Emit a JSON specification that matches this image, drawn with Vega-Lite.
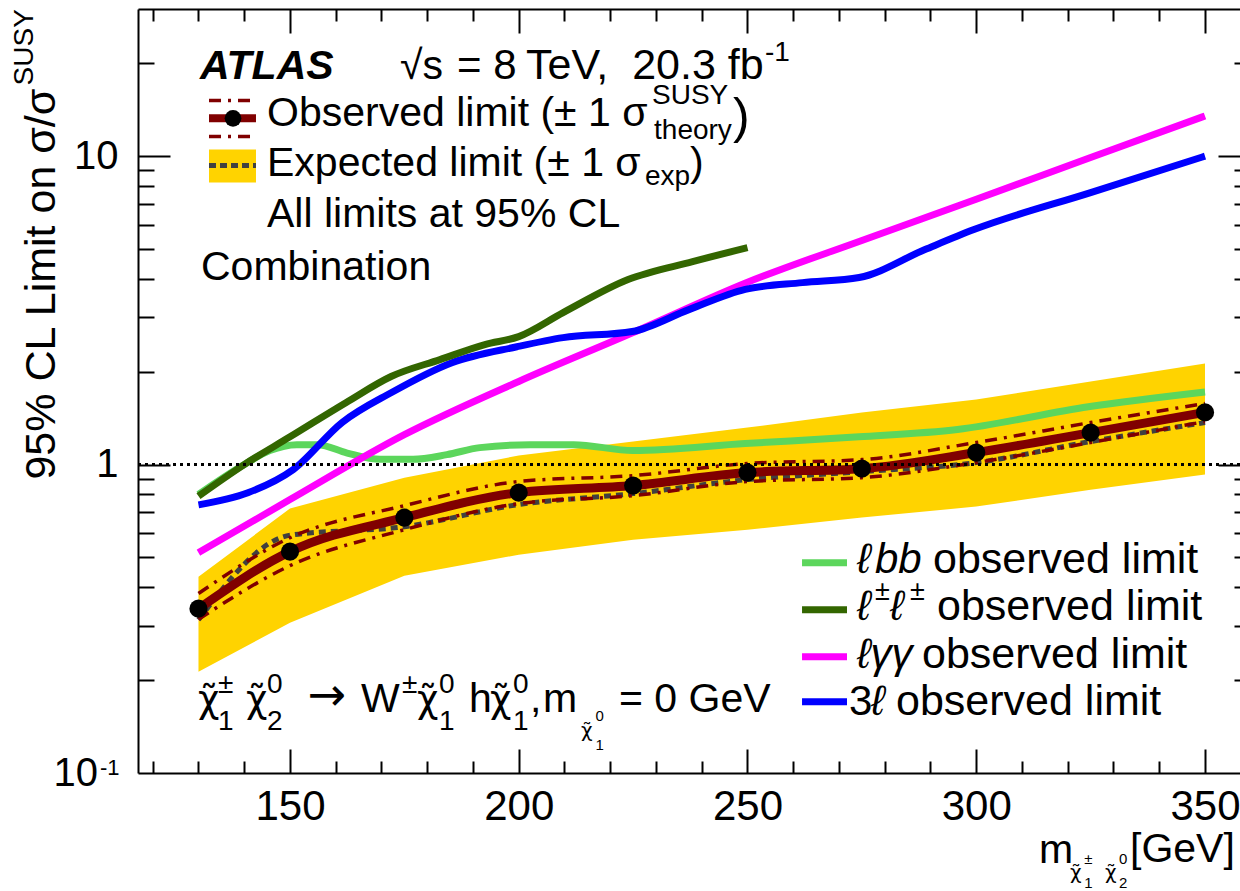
{
"$schema": "https://vega.github.io/schema/vega-lite/v6.json",
"width": 1102,
"height": 764,
"autosize": {"type": "none"},
"padding": {"left": 138, "top": 9, "right": 0, "bottom": 118},
"background": "white",
"config": {"view": {"stroke": null}, "font": "Liberation Sans", "text": {"font": "Liberation Sans", "color": "black", "align": "left", "baseline": "alphabetic"}},
"resolve": {"axis": {"x": "independent", "y": "independent"}},
"datasets": {
"band": [
{"m":130,"lo":0.213,"hi":0.433},{"m":150,"lo":0.307,"hi":0.720},{"m":175,"lo":0.436,"hi":0.907},{"m":200,"lo":0.510,"hi":1.070},{"m":225,"lo":0.571,"hi":1.188},{"m":250,"lo":0.615,"hi":1.318},{"m":275,"lo":0.673,"hi":1.475},{"m":300,"lo":0.731,"hi":1.626},{"m":325,"lo":0.829,"hi":1.860},{"m":350,"lo":0.928,"hi":2.128}],
"obs": [
{"m":130,"v":0.341,"up":0.382,"dn":0.315},{"m":150,"v":0.522,"up":0.579,"dn":0.470},{"m":175,"v":0.673,"up":0.736,"dn":0.615},{"m":200,"v":0.811,"up":0.881,"dn":0.747},{"m":225,"v":0.855,"up":0.921,"dn":0.793},{"m":250,"v":0.942,"up":1.008,"dn":0.881},{"m":275,"v":0.970,"up":1.038,"dn":0.907},{"m":300,"v":1.094,"up":1.179,"dn":1.015},{"m":325,"v":1.270,"up":1.369,"dn":1.179},{"m":350,"v":1.476,"up":1.578,"dn":1.379}],
"exp": [
{"m":130,"v":0.314},{"m":150,"v":0.59},{"m":175,"v":0.629},{"m":200,"v":0.742},{"m":225,"v":0.805},{"m":250,"v":0.894},{"m":275,"v":0.949},{"m":300,"v":1.015},{"m":325,"v":1.188},{"m":350,"v":1.369}],
"lbb": [
{"m":130,"v":0.80},{"m":140,"v":1.0},{"m":145.6,"v":1.11},{"m":151.5,"v":1.16},{"m":156,"v":1.16},{"m":162.5,"v":1.09},{"m":169.7,"v":1.04},{"m":176.9,"v":1.04},{"m":184.3,"v":1.077},{"m":191.5,"v":1.135},{"m":202.5,"v":1.16},{"m":212,"v":1.16},{"m":225,"v":1.11},{"m":249.5,"v":1.17},{"m":274.4,"v":1.23},{"m":295.9,"v":1.30},{"m":324.5,"v":1.54},{"m":350,"v":1.72}],
"ss": [
{"m":130,"v":0.79},{"m":140,"v":1.0},{"m":150,"v":1.23},{"m":162.3,"v":1.59},{"m":172.1,"v":1.93},{"m":182.8,"v":2.19},{"m":192.6,"v":2.45},{"m":200,"v":2.60},{"m":209.7,"v":3.11},{"m":223.9,"v":3.98},{"m":238,"v":4.55},{"m":250,"v":5.05}],
"lgg": [
{"m":130,"v":0.518},{"m":150,"v":0.770},{"m":175,"v":1.25},{"m":200,"v":1.86},{"m":225,"v":2.68},{"m":250,"v":3.90},{"m":275,"v":5.33},{"m":300,"v":7.25},{"m":325,"v":9.9},{"m":350,"v":13.5}],
"l3": [
{"m":130,"v":0.74},{"m":140.8,"v":0.81},{"m":150.7,"v":0.963},{"m":161.4,"v":1.37},{"m":172.1,"v":1.71},{"m":185.4,"v":2.14},{"m":199.6,"v":2.41},{"m":209.7,"v":2.58},{"m":224.8,"v":2.70},{"m":237.2,"v":3.18},{"m":249.5,"v":3.70},{"m":262,"v":3.89},{"m":274.4,"v":4.04},{"m":288.8,"v":4.98},{"m":299.5,"v":5.78},{"m":325,"v":7.62},{"m":350,"v":10.0}]
},
"layer": [
{"data": {"name": "band"}, "mark": {"type": "area", "color": "#ffd300", "opacity": 1},
 "encoding": {
  "x": {"field": "m", "type": "quantitative", "scale": {"domain": [116.78, 357.65], "nice": false, "zero": false},
        "axis": {"orient": "bottom", "values": [150,200,250,300,350], "ticks": false, "domain": true, "domainColor": "black", "domainWidth": 2, "labels": true, "labelFont": "Liberation Sans", "labelFontSize": 42, "labelColor": "black", "labelPadding": 13, "labelFlush": false, "labelOverlap": false, "labelBound": false, "grid": false, "title": null, "zindex": 1}},
  "y": {"field": "hi", "type": "quantitative", "scale": {"type": "log", "domain": [0.1, 30], "nice": false},
        "axis": {"orient": "left", "values": [1, 10], "ticks": false, "domain": true, "domainColor": "black", "domainWidth": 2, "labels": true, "labelFont": "Liberation Sans", "labelFontSize": 40, "labelColor": "black", "labelPadding": 20, "labelExpr": "datum.value > 5 ? '10' : '1'", "labelFlush": false, "labelOverlap": false, "labelBound": false, "grid": false, "title": null, "zindex": 1}},
  "y2": {"field": "lo"}
 }},
{"data": {"name": "exp"}, "mark": {"type": "line", "color": "#404040", "strokeWidth": 5, "strokeDash": [7, 5], "interpolate": "monotone"},
 "encoding": {
  "x": {"field": "m", "type": "quantitative", "axis": {"orient": "bottom", "values": [150,200,250,300,350], "ticks": true, "tickSize": -24, "tickWidth": 2, "tickColor": "black", "labels": false, "domain": false, "grid": false, "title": null, "zindex": 1}},
  "y": {"field": "v", "type": "quantitative", "axis": {"orient": "left", "values": [1, 10], "ticks": true, "tickSize": -32, "tickWidth": 2, "tickColor": "black", "labels": false, "domain": false, "grid": false, "title": null, "zindex": 1}}
 }},
{"data": {"name": "obs"}, "mark": {"type": "line", "color": "#800000", "strokeWidth": 3.5, "strokeDash": [12, 7, 3, 7], "interpolate": "monotone"},
 "encoding": {
  "x": {"field": "m", "type": "quantitative", "axis": {"orient": "bottom", "values": [120,130,140,160,170,180,190,210,220,230,240,260,270,280,290,310,320,330,340], "ticks": true, "tickSize": -12, "tickWidth": 2, "tickColor": "black", "labels": false, "domain": false, "grid": false, "title": null, "zindex": 1}},
  "y": {"field": "up", "type": "quantitative", "axis": {"orient": "left", "values": [0.2,0.3,0.4,0.5,0.6,0.7,0.8,0.9,2,3,4,5,6,7,8,9,20], "ticks": true, "tickSize": -16, "tickWidth": 2, "tickColor": "black", "labels": false, "domain": false, "grid": false, "title": null, "zindex": 1}}
 }},
{"data": {"name": "obs"}, "mark": {"type": "line", "color": "#800000", "strokeWidth": 3.5, "strokeDash": [12, 7, 3, 7], "interpolate": "monotone"},
 "encoding": {
  "x": {"field": "m", "type": "quantitative", "axis": {"orient": "top", "values": [150,200,250,300,350], "ticks": true, "tickSize": -24, "tickWidth": 2, "tickColor": "black", "labels": false, "domain": true, "domainColor": "black", "domainWidth": 2, "grid": false, "title": null, "zindex": 1}},
  "y": {"field": "dn", "type": "quantitative", "axis": {"orient": "right", "values": [1, 10], "ticks": true, "tickSize": -22, "tickWidth": 2, "tickColor": "black", "labels": false, "domain": false, "grid": false, "title": null, "zindex": 1}}
 }},
{"data": {"name": "obs"}, "mark": {"type": "line", "color": "#800000", "strokeWidth": 9, "interpolate": "monotone"},
 "encoding": {
  "x": {"field": "m", "type": "quantitative", "axis": {"orient": "top", "values": [120,130,140,160,170,180,190,210,220,230,240,260,270,280,290,310,320,330,340], "ticks": true, "tickSize": -12, "tickWidth": 2, "tickColor": "black", "labels": false, "domain": false, "grid": false, "title": null, "zindex": 1}},
  "y": {"field": "v", "type": "quantitative", "axis": {"orient": "right", "values": [0.2,0.3,0.4,0.5,0.6,0.7,0.8,0.9,2,3,4,5,6,7,8,9,20], "ticks": true, "tickSize": -6, "tickWidth": 2, "tickColor": "black", "labels": false, "domain": false, "grid": false, "title": null, "zindex": 1}}
 }},
{"data": {"name": "obs"}, "mark": {"type": "point", "shape": "circle", "filled": true, "color": "black", "opacity": 1, "size": 330},
 "encoding": {"x": {"field": "m", "type": "quantitative", "axis": null}, "y": {"field": "v", "type": "quantitative", "axis": null}}},
{"data": {"name": "lbb"}, "mark": {"type": "line", "color": "#5cd65c", "strokeWidth": 7, "interpolate": "monotone"},
 "encoding": {"x": {"field": "m", "type": "quantitative", "axis": null}, "y": {"field": "v", "type": "quantitative", "axis": null}}},
{"data": {"name": "lgg"}, "mark": {"type": "line", "color": "#ff00ff", "strokeWidth": 7, "interpolate": "monotone"},
 "encoding": {"x": {"field": "m", "type": "quantitative", "axis": null}, "y": {"field": "v", "type": "quantitative", "axis": null}}},
{"data": {"name": "l3"}, "mark": {"type": "line", "color": "#0000ff", "strokeWidth": 7, "interpolate": "monotone"},
 "encoding": {"x": {"field": "m", "type": "quantitative", "axis": null}, "y": {"field": "v", "type": "quantitative", "axis": null}}},
{"data": {"name": "ss"}, "mark": {"type": "line", "color": "#336600", "strokeWidth": 7, "interpolate": "monotone"},
 "encoding": {"x": {"field": "m", "type": "quantitative", "axis": null}, "y": {"field": "v", "type": "quantitative", "axis": null}}},
{"data": {"values": [{}]}, "mark": {"type": "rule", "color": "black", "strokeWidth": 3, "strokeDash": [3, 4]},
 "encoding": {"y": {"datum": 1, "axis": null}}},

{"data": {"values": [{}]}, "mark": {"type": "rect", "color": "#ffd300"},
 "encoding": {"x": {"datum": 132.30, "axis": null}, "x2": {"datum": 142.57}, "y": {"datum": 10.513, "axis": null}, "y2": {"datum": 8.218}}},
{"data": {"values": [{}]}, "mark": {"type": "rule", "color": "#404040", "strokeWidth": 5, "strokeDash": [7, 4]},
 "encoding": {"x": {"datum": 132.30, "axis": null}, "x2": {"datum": 142.57}, "y": {"datum": 9.329, "axis": null}}},
{"data": {"values": [{}]}, "mark": {"type": "rule", "color": "#800000", "strokeWidth": 3.5, "strokeDash": [12, 7, 3, 7]},
 "encoding": {"x": {"datum": 132.30, "axis": null}, "x2": {"datum": 142.57}, "y": {"datum": 15.16, "axis": null}}},
{"data": {"values": [{}]}, "mark": {"type": "rule", "color": "#800000", "strokeWidth": 3.5, "strokeDash": [12, 7, 3, 7]},
 "encoding": {"x": {"datum": 132.30, "axis": null}, "x2": {"datum": 142.57}, "y": {"datum": 11.59, "axis": null}}},
{"data": {"values": [{}]}, "mark": {"type": "rule", "color": "#800000", "strokeWidth": 8},
 "encoding": {"x": {"datum": 132.30, "axis": null}, "x2": {"datum": 142.57}, "y": {"datum": 13.26, "axis": null}}},
{"data": {"values": [{}]}, "mark": {"type": "point", "shape": "circle", "filled": true, "color": "black", "opacity": 1, "size": 280},
 "encoding": {"x": {"datum": 137.55, "axis": null}, "y": {"datum": 13.26, "axis": null}}},

{"data": {"values": [{}]}, "mark": {"type": "rule", "color": "#5cd65c", "strokeWidth": 7},
 "encoding": {"x": {"datum": 261.92, "axis": null}, "x2": {"datum": 271.75}, "y": {"datum": 0.4809, "axis": null}}},
{"data": {"values": [{}]}, "mark": {"type": "rule", "color": "#336600", "strokeWidth": 7},
 "encoding": {"x": {"datum": 261.92, "axis": null}, "x2": {"datum": 271.75}, "y": {"datum": 0.3385, "axis": null}}},
{"data": {"values": [{}]}, "mark": {"type": "rule", "color": "#ff00ff", "strokeWidth": 7},
 "encoding": {"x": {"datum": 261.92, "axis": null}, "x2": {"datum": 271.75}, "y": {"datum": 0.2383, "axis": null}}},
{"data": {"values": [{}]}, "mark": {"type": "rule", "color": "#0000ff", "strokeWidth": 7},
 "encoding": {"x": {"datum": 261.92, "axis": null}, "x2": {"datum": 271.75}, "y": {"datum": 0.1703, "axis": null}}},

{"data": {"values": [{}]}, "mark": {"type": "text", "text": "ATLAS", "fontSize": 41, "fontWeight": "bold", "fontStyle": "italic"}, "encoding": {"x": {"datum": 130.33, "axis": null}, "y": {"datum": 17.74, "axis": null}}},
{"data": {"values": [{}]}, "mark": {"type": "text", "text": "√s", "fontSize": 41}, "encoding": {"x": {"datum": 174.05, "axis": null}, "y": {"datum": 17.74, "axis": null}}},
{"data": {"values": [{}]}, "mark": {"type": "text", "text": "= 8", "fontSize": 42}, "encoding": {"x": {"datum": 186.51, "axis": null}, "y": {"datum": 17.74, "axis": null}}},
{"data": {"values": [{}]}, "mark": {"type": "text", "text": "TeV,", "fontSize": 43}, "encoding": {"x": {"datum": 201.6, "axis": null}, "y": {"datum": 17.74, "axis": null}}},
{"data": {"values": [{}]}, "mark": {"type": "text", "text": "20.3 fb", "fontSize": 43}, "encoding": {"x": {"datum": 224.8, "axis": null}, "y": {"datum": 17.74, "axis": null}}},
{"data": {"values": [{}]}, "mark": {"type": "text", "text": "-1", "fontSize": 28}, "encoding": {"x": {"datum": 253.8, "axis": null}, "y": {"datum": 20.28, "axis": null}}},
{"data": {"values": [{}]}, "mark": {"type": "text", "text": "Observed limit (± 1 σ", "fontSize": 41}, "encoding": {"x": {"datum": 144.98, "axis": null}, "y": {"datum": 12.49, "axis": null}}},
{"data": {"values": [{}]}, "mark": {"type": "text", "text": "SUSY", "fontSize": 28}, "encoding": {"x": {"datum": 229.13, "axis": null}, "y": {"datum": 14.71, "axis": null}}},
{"data": {"values": [{}]}, "mark": {"type": "text", "text": "theory", "fontSize": 28}, "encoding": {"x": {"datum": 229.57, "axis": null}, "y": {"datum": 11.33, "axis": null}}},
{"data": {"values": [{}]}, "mark": {"type": "text", "text": ")", "fontSize": 50}, "encoding": {"x": {"datum": 246.84, "axis": null}, "y": {"datum": 11.85, "axis": null}}},
{"data": {"values": [{}]}, "mark": {"type": "text", "text": "Expected limit (± 1 σ", "fontSize": 41}, "encoding": {"x": {"datum": 144.98, "axis": null}, "y": {"datum": 8.595, "axis": null}}},
{"data": {"values": [{}]}, "mark": {"type": "text", "text": "exp", "fontSize": 28}, "encoding": {"x": {"datum": 227.60, "axis": null}, "y": {"datum": 8.034, "axis": null}}},
{"data": {"values": [{}]}, "mark": {"type": "text", "text": ")", "fontSize": 41}, "encoding": {"x": {"datum": 237.44, "axis": null}, "y": {"datum": 8.595, "axis": null}}},
{"data": {"values": [{}]}, "mark": {"type": "text", "text": "All limits at 95% CL", "fontSize": 41}, "encoding": {"x": {"datum": 144.98, "axis": null}, "y": {"datum": 5.871, "axis": null}}},
{"data": {"values": [{}]}, "mark": {"type": "text", "text": "Combination", "fontSize": 41}, "encoding": {"x": {"datum": 130.55, "axis": null}, "y": {"datum": 3.981, "axis": null}}},

{"data": {"values": [{}]}, "mark": {"type": "text", "text": "ℓ", "fontSize": 42, "fontStyle": "italic"}, "encoding": {"x": {"datum": 273.94, "axis": null}, "y": {"datum": 0.4462, "axis": null}}},
{"data": {"values": [{}]}, "mark": {"type": "text", "text": "bb", "fontSize": 42, "fontStyle": "italic"}, "encoding": {"x": {"datum": 277.87, "axis": null}, "y": {"datum": 0.4462, "axis": null}}},
{"data": {"values": [{}]}, "mark": {"type": "text", "text": "observed limit", "fontSize": 43}, "encoding": {"x": {"datum": 290.55, "axis": null}, "y": {"datum": 0.4462, "axis": null}}},
{"data": {"values": [{}]}, "mark": {"type": "text", "text": "ℓ", "fontSize": 42, "fontStyle": "italic"}, "encoding": {"x": {"datum": 273.94, "axis": null}, "y": {"datum": 0.3143, "axis": null}}},
{"data": {"values": [{}]}, "mark": {"type": "text", "text": "±", "fontSize": 27}, "encoding": {"x": {"datum": 277.87, "axis": null}, "y": {"datum": 0.3648, "axis": null}}},
{"data": {"values": [{}]}, "mark": {"type": "text", "text": "ℓ", "fontSize": 42, "fontStyle": "italic"}, "encoding": {"x": {"datum": 281.15, "axis": null}, "y": {"datum": 0.3143, "axis": null}}},
{"data": {"values": [{}]}, "mark": {"type": "text", "text": "±", "fontSize": 27}, "encoding": {"x": {"datum": 285.52, "axis": null}, "y": {"datum": 0.3648, "axis": null}}},
{"data": {"values": [{}]}, "mark": {"type": "text", "text": "observed limit", "fontSize": 43}, "encoding": {"x": {"datum": 291.43, "axis": null}, "y": {"datum": 0.3143, "axis": null}}},
{"data": {"values": [{}]}, "mark": {"type": "text", "text": "ℓγγ", "fontSize": 42, "fontStyle": "italic"}, "encoding": {"x": {"datum": 273.94, "axis": null}, "y": {"datum": 0.2196, "axis": null}}},
{"data": {"values": [{}]}, "mark": {"type": "text", "text": "observed limit", "fontSize": 43}, "encoding": {"x": {"datum": 288.15, "axis": null}, "y": {"datum": 0.2196, "axis": null}}},
{"data": {"values": [{}]}, "mark": {"type": "text", "text": "3", "fontSize": 42}, "encoding": {"x": {"datum": 272.2, "axis": null}, "y": {"datum": 0.1545, "axis": null}}},
{"data": {"values": [{}]}, "mark": {"type": "text", "text": "ℓ", "fontSize": 42, "fontStyle": "italic"}, "encoding": {"x": {"datum": 277.0, "axis": null}, "y": {"datum": 0.1545, "axis": null}}},
{"data": {"values": [{}]}, "mark": {"type": "text", "text": "observed limit", "fontSize": 43}, "encoding": {"x": {"datum": 282.46, "axis": null}, "y": {"datum": 0.1545, "axis": null}}},

{"data": {"values": [{}]}, "mark": {"type": "text", "text": "\u03c7\u0303", "font": "DejaVu Sans", "fontSize": 37}, "encoding": {"x": {"datum": 129.89, "axis": null}, "y": {"datum": 0.1580, "axis": null}}},
{"data": {"values": [{}]}, "mark": {"type": "text", "text": "±", "fontSize": 28}, "encoding": {"x": {"datum": 134.27, "axis": null}, "y": {"datum": 0.1822, "axis": null}}},
{"data": {"values": [{}]}, "mark": {"type": "text", "text": "1", "fontSize": 28}, "encoding": {"x": {"datum": 134.27, "axis": null}, "y": {"datum": 0.1381, "axis": null}}},
{"data": {"values": [{}]}, "mark": {"type": "text", "text": "\u03c7\u0303", "font": "DejaVu Sans", "fontSize": 37}, "encoding": {"x": {"datum": 140.39, "axis": null}, "y": {"datum": 0.1580, "axis": null}}},
{"data": {"values": [{}]}, "mark": {"type": "text", "text": "0", "fontSize": 28}, "encoding": {"x": {"datum": 144.98, "axis": null}, "y": {"datum": 0.1822, "axis": null}}},
{"data": {"values": [{}]}, "mark": {"type": "text", "text": "2", "fontSize": 28}, "encoding": {"x": {"datum": 144.98, "axis": null}, "y": {"datum": 0.1381, "axis": null}}},
{"data": {"values": [{}]}, "mark": {"type": "text", "text": "→", "font": "DejaVu Sans", "fontSize": 46}, "encoding": {"x": {"datum": 153.9, "axis": null}, "y": {"datum": 0.1600, "axis": null}}},
{"data": {"values": [{}]}, "mark": {"type": "text", "text": "W", "fontSize": 41}, "encoding": {"x": {"datum": 165.52, "axis": null}, "y": {"datum": 0.1580, "axis": null}}},
{"data": {"values": [{}]}, "mark": {"type": "text", "text": "±", "fontSize": 28}, "encoding": {"x": {"datum": 174.49, "axis": null}, "y": {"datum": 0.1822, "axis": null}}},
{"data": {"values": [{}]}, "mark": {"type": "text", "text": "\u03c7\u0303", "font": "DejaVu Sans", "fontSize": 37}, "encoding": {"x": {"datum": 177.76, "axis": null}, "y": {"datum": 0.1580, "axis": null}}},
{"data": {"values": [{}]}, "mark": {"type": "text", "text": "0", "fontSize": 28}, "encoding": {"x": {"datum": 182.57, "axis": null}, "y": {"datum": 0.1822, "axis": null}}},
{"data": {"values": [{}]}, "mark": {"type": "text", "text": "1", "fontSize": 28}, "encoding": {"x": {"datum": 182.57, "axis": null}, "y": {"datum": 0.1381, "axis": null}}},
{"data": {"values": [{}]}, "mark": {"type": "text", "text": "h", "fontSize": 41}, "encoding": {"x": {"datum": 189.13, "axis": null}, "y": {"datum": 0.1580, "axis": null}}},
{"data": {"values": [{}]}, "mark": {"type": "text", "text": "\u03c7\u0303", "font": "DejaVu Sans", "fontSize": 37}, "encoding": {"x": {"datum": 193.7, "axis": null}, "y": {"datum": 0.1580, "axis": null}}},
{"data": {"values": [{}]}, "mark": {"type": "text", "text": "0", "fontSize": 28}, "encoding": {"x": {"datum": 198.75, "axis": null}, "y": {"datum": 0.1822, "axis": null}}},
{"data": {"values": [{}]}, "mark": {"type": "text", "text": "1", "fontSize": 28}, "encoding": {"x": {"datum": 198.75, "axis": null}, "y": {"datum": 0.1381, "axis": null}}},
{"data": {"values": [{}]}, "mark": {"type": "text", "text": ",", "fontSize": 41}, "encoding": {"x": {"datum": 202.46, "axis": null}, "y": {"datum": 0.1580, "axis": null}}},
{"data": {"values": [{}]}, "mark": {"type": "text", "text": "m", "fontSize": 41}, "encoding": {"x": {"datum": 205.3, "axis": null}, "y": {"datum": 0.1580, "axis": null}}},
{"data": {"values": [{}]}, "mark": {"type": "text", "text": "\u03c7\u0303", "font": "DejaVu Sans", "fontSize": 20}, "encoding": {"x": {"datum": 213.6, "axis": null}, "y": {"datum": 0.1311, "axis": null}}},
{"data": {"values": [{}]}, "mark": {"type": "text", "text": "0", "fontSize": 15}, "encoding": {"x": {"datum": 216.8, "axis": null}, "y": {"datum": 0.1478, "axis": null}}},
{"data": {"values": [{}]}, "mark": {"type": "text", "text": "1", "fontSize": 15}, "encoding": {"x": {"datum": 216.8, "axis": null}, "y": {"datum": 0.1190, "axis": null}}},
{"data": {"values": [{}]}, "mark": {"type": "text", "text": "= 0 GeV", "fontSize": 41}, "encoding": {"x": {"datum": 221.92, "axis": null}, "y": {"datum": 0.1580, "axis": null}}},

{"data": {"values": [{}]}, "mark": {"type": "text", "text": "m", "fontSize": 41}, "encoding": {"x": {"datum": 313.72, "axis": null}, "y": {"datum": 0.05118, "axis": null}}},
{"data": {"values": [{}]}, "mark": {"type": "text", "text": "\u03c7\u0303", "font": "DejaVu Sans", "fontSize": 20}, "encoding": {"x": {"datum": 320.50, "axis": null}, "y": {"datum": 0.04530, "axis": null}}},
{"data": {"values": [{}]}, "mark": {"type": "text", "text": "±", "fontSize": 15}, "encoding": {"x": {"datum": 323.6, "axis": null}, "y": {"datum": 0.05080, "axis": null}}},
{"data": {"values": [{}]}, "mark": {"type": "text", "text": "1", "fontSize": 15}, "encoding": {"x": {"datum": 323.6, "axis": null}, "y": {"datum": 0.04230, "axis": null}}},
{"data": {"values": [{}]}, "mark": {"type": "text", "text": "\u03c7\u0303", "font": "DejaVu Sans", "fontSize": 20}, "encoding": {"x": {"datum": 328.15, "axis": null}, "y": {"datum": 0.04530, "axis": null}}},
{"data": {"values": [{}]}, "mark": {"type": "text", "text": "0", "fontSize": 15}, "encoding": {"x": {"datum": 331.2, "axis": null}, "y": {"datum": 0.05080, "axis": null}}},
{"data": {"values": [{}]}, "mark": {"type": "text", "text": "2", "fontSize": 15}, "encoding": {"x": {"datum": 331.2, "axis": null}, "y": {"datum": 0.04230, "axis": null}}},
{"data": {"values": [{}]}, "mark": {"type": "text", "text": "[GeV]", "fontSize": 41}, "encoding": {"x": {"datum": 333.61, "axis": null}, "y": {"datum": 0.05157, "axis": null}}},

{"data": {"values": [{}]}, "mark": {"type": "text", "text": "95% CL Limit on σ/σ", "fontSize": 43, "angle": 270}, "encoding": {"x": {"datum": 98.64, "axis": null}, "y": {"datum": 0.8941, "axis": null}}},
{"data": {"values": [{}]}, "mark": {"type": "text", "text": "SUSY", "fontSize": 28, "angle": 270}, "encoding": {"x": {"datum": 93.83, "axis": null}, "y": {"datum": 16.96, "axis": null}}},
{"data": {"values": [{}]}, "mark": {"type": "text", "text": "10", "fontSize": 40, "align": "right"}, "encoding": {"x": {"datum": 108.04, "axis": null}, "y": {"datum": 0.09095, "axis": null}}},
{"data": {"values": [{}]}, "mark": {"type": "text", "text": "-1", "fontSize": 22}, "encoding": {"x": {"datum": 108.47, "axis": null}, "y": {"datum": 0.09874, "axis": null}}}
]
}
